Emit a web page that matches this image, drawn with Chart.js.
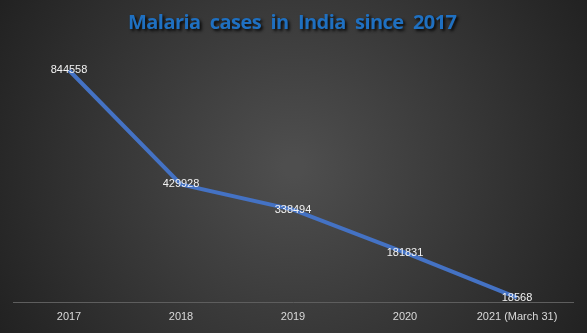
<!DOCTYPE html>
<html>
<head>
<meta charset="utf-8">
<script src="https://cdn.jsdelivr.net/npm/chart.js@4"></script>
<style>
  html, body { margin: 0; padding: 0; background: #2b2b2b; }
  #wrap { width: 587px; height: 333px; }
</style>
</head>
<body>
<div id="wrap"><canvas id="myChart" width="587" height="333"></canvas></div>
<script>
var titleText = 'Malaria  cases  in  India  since  2017';
var years = ['2017', '2018', '2019', '2020', '2021 (March 31)'];
var cases = [844558, 429928, 338494, 181831, 18568];

// dark radial background like the Excel style
var background = {
    id: 'background',
    beforeDraw: function(chart) {
        var ctx = chart.ctx;
        var w = chart.width, h = chart.height;
        var g = ctx.createRadialGradient(w / 2, h / 2, 10, w / 2, h / 2, w * 0.62);
        g.addColorStop(0, '#4e4e4e');
        g.addColorStop(1, '#1e1e1e');
        ctx.save();
        ctx.fillStyle = g;
        ctx.fillRect(0, 0, w, h);
        ctx.restore();
    }
};

// title with shadow
var shadowTitle = {
    id: 'shadowTitle',
    afterDraw: function(chart) {
        var ctx = chart.ctx;
        ctx.save();
        ctx.font = 'bold 20px "Open Sans", sans-serif';
        var plain = ctx.measureText(titleText).width;
        ctx.letterSpacing = ((329 - plain) / (titleText.length - 1)) + 'px';
        ctx.textAlign = 'left';
        ctx.textBaseline = 'middle';
        ctx.shadowColor = 'rgba(0,0,0,0.85)';
        ctx.shadowOffsetX = 2;
        ctx.shadowOffsetY = 2;
        ctx.shadowBlur = 3;
        ctx.fillStyle = '#1f70c1';
        ctx.fillText(titleText, 128, 23);
        ctx.restore();
    }
};

// value labels on the points
var valueLabels = {
    id: 'valueLabels',
    afterDatasetsDraw: function(chart) {
        var ctx = chart.ctx;
        var meta = chart.getDatasetMeta(0);
        ctx.save();
        ctx.font = '11px "Liberation Sans", sans-serif';
        ctx.fillStyle = '#f2f2f2';
        ctx.textAlign = 'center';
        ctx.textBaseline = 'middle';
        meta.data.forEach(function(pt, i) {
            ctx.fillText(String(cases[i]), pt.x, pt.y);
        });
        ctx.restore();
    }
};

var ctx = document.getElementById('myChart').getContext('2d');
var chart = new Chart(ctx, {
    type: 'line',
    data: {
        labels: years,
        datasets: [{
            label: 'Cases',
            data: cases,
            borderColor: '#4472c4',
            borderWidth: 4,
            pointRadius: 0,
            tension: 0,
            clip: false
        }]
    },
    options: {
        responsive: false,
        animation: false,
        layout: { padding: { top: 55, left: 13, right: 14, bottom: 1 } },
        plugins: {
            legend: { display: false },
            title: { display: false },
            tooltip: { enabled: false }
        },
        scales: {
            x: {
                offset: true,
                grid: { display: false, drawTicks: false },
                border: { color: '#5e5e5e', width: 1 },
                ticks: {
                    color: '#d9d9d9',
                    font: { family: '"Liberation Sans", sans-serif', size: 11 },
                    padding: 8,
                    maxRotation: 0
                }
            },
            y: {
                display: false,
                min: 0,
                max: 900000
            }
        }
    },
    plugins: [background, shadowTitle, valueLabels]
});
</script>
</body>
</html>
